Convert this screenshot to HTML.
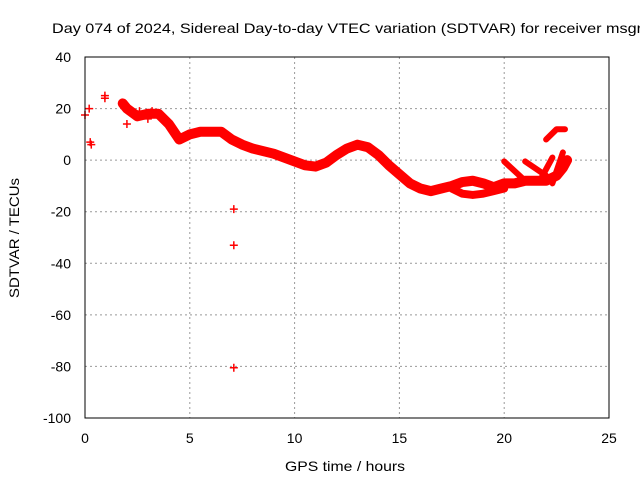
<!DOCTYPE html>
<html><head><meta charset="utf-8"><style>
body{margin:0;background:#fff}
svg{display:block;font-family:"Liberation Sans",sans-serif;font-size:14px}
</style></head><body>
<svg id="chart" width="640" height="480" viewBox="0 0 640 480">
<text x="52" y="33" textLength="590" lengthAdjust="spacingAndGlyphs" fill="#000">Day 074 of 2024, Sidereal Day-to-day VTEC variation (SDTVAR) for receiver msgr</text>
<g id="grid"></g>
<g id="ticks"></g>
<g id="data"></g>
<rect x="85" y="57" width="524" height="361" fill="none" stroke="#000" stroke-width="1"/>
<text x="285" y="471" textLength="120" lengthAdjust="spacingAndGlyphs">GPS time / hours</text>
<text transform="translate(19,238) rotate(-90)" text-anchor="middle" textLength="120" lengthAdjust="spacingAndGlyphs">SDTVAR / TECUs</text>
</svg>
<script>
const xTicks=[0,5,10,15,20,25];
const yTicks=[40,20,0,-20,-40,-60,-80,-100];
const mainT=[1.8,2.0,2.5,3.0,3.5,4.0,4.5,5.0,5.5,6.0,6.5,7.0,7.5,8,9,10,10.5,11,11.5,12,12.5,13,13.5,14,14.5,15,15.5,16,16.5,17,17.5,18,18.5,19,19.5,20,20.5,21,21.5,22,22.5,22.8,23];
const mainV=[22,20,17,18,18,14,8,10,11,11,11,8,6,4.5,2.5,-0.5,-2,-2.5,-1,2,4.5,6,5,2,-2,-5.5,-9,-11,-12,-11,-10,-8.5,-8,-9,-10.5,-9,-9,-8,-8,-8,-6,-3,0];
const branchT=[17.5,18,18.5,19,19.5,20];
const branchV=[-11,-13,-13.5,-13,-12,-11];
const streaksT=[[20,21],[21,22],[22.3,21.7],[22.8,22.3],[22.0,22.5,22.9]];
const streaksV=[[-0.5,-8],[-0.5,-6],[1,-8],[3,-9],[8,12,12]];
const ptT=[0,0.2,0.25,0.3,0.95,0.95,2.0,2.6,3.2,3.0,7.1,7.1,7.1];
const ptV=[17.5,20,7,6,25,24,14,19,19,16,-19,-33,-80.5];
const L=85,R=609,T=57,B=418;
const X=t=>L+(t-0)/25*(R-L);
const Y=v=>T+(40-v)/140*(B-T);
const NS='http://www.w3.org/2000/svg';
function mk(tag,attrs,parent){const e=document.createElementNS(NS,tag);for(const k in attrs)e.setAttribute(k,attrs[k]);parent.appendChild(e);return e;}
const grid=document.getElementById('grid'),ticks=document.getElementById('ticks'),data=document.getElementById('data');
xTicks.forEach(t=>{
 if(t>0&&t<25){const g=mk('line',{x1:X(t),x2:X(t),y1:T,y2:B,stroke:'#999','stroke-dasharray':'2,3'},grid);
 
 }
 const tx=mk('text',{x:X(t),y:443,'text-anchor':'middle'},ticks);tx.textContent=t;
 
 
});
yTicks.forEach(v=>{
 if(v<40&&v>-100){const g=mk('line',{x1:L,x2:R,y1:Y(v),y2:Y(v),stroke:'#999','stroke-dasharray':'2,3'},grid);
 
 }
 const tx=mk('text',{x:71,y:Y(v)+5,'text-anchor':'end'},ticks);tx.textContent=v;
 
 
});
function band(ts,vs,w,name){
 const p=mk('polyline',{points:ts.map((t,i)=>X(t)+','+Y(vs[i])).join(' '),fill:'none',stroke:'#f00','stroke-width':w,'stroke-linejoin':'round','stroke-linecap':'round'},data);
 
 
}
band(mainT,mainV,10,'main-band');
band(branchT,branchV,8,'lower-branch');
streaksT.forEach((ts,i)=>band(ts,streaksV[i],6,'streak'));
ptT.forEach((t,i)=>{
 const x=X(t),y=Y(ptV[i]);
 const p=mk('path',{d:`M${x-4},${y}H${x+4}M${x},${y-4}V${y+4}`,stroke:'#f00','stroke-width':1.5},data);
 
 
});
</script>
</body></html>
